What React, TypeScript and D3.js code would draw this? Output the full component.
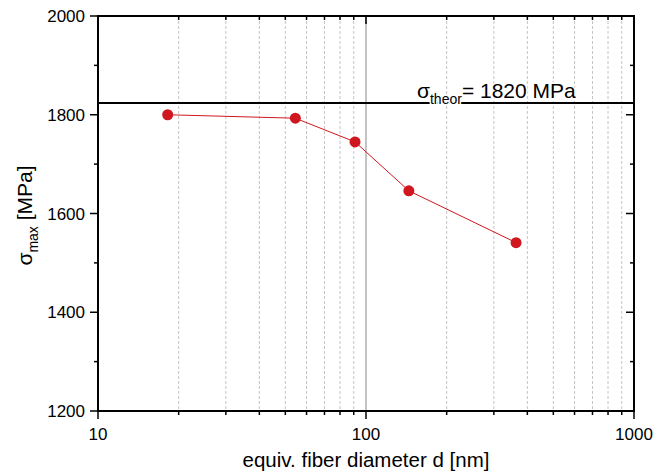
import React from 'react';
import * as d3 from 'd3';

const diameters = [18.2, 54.5, 91, 144.5, 363];
const sigmaMax = [1800, 1793, 1745, 1646, 1541];
const sigmaTheor = 1824;
const yTicks = [1200, 1400, 1600, 1800, 2000];
const yMinorTicks = [1300, 1500, 1700, 1900];
const xTicks = [10, 100, 1000];
const xMinorTicks = [20, 30, 40, 50, 60, 70, 80, 90, 200, 300, 400, 500, 600, 700, 800, 900];

const W = 670;
const H = 476;
const margin = { top: 16, right: 36, bottom: 65, left: 98 };
const font = 'Liberation Sans, Arial, sans-serif';
const red = '#d0171f';

export default function App() {
  const x = d3.scaleLog().domain([10, 1000]).range([margin.left, W - margin.right]);
  const y = d3.scaleLinear().domain([1200, 2000]).range([H - margin.bottom, margin.top]);
  const [x0, x1] = x.range();
  const [y0, y1] = y.range();

  const pts = diameters.map((d, i) => [x(d), y(sigmaMax[i])] as [number, number]);
  const line = d3.line()(pts) || '';

  return (
    <svg width={W} height={H} style={{ position: 'absolute', left: 0, top: 0, background: '#fff' }}>
      {/* vertical grid */}
      {xMinorTicks.map(t => (
        <line key={'g' + t} x1={x(t)} x2={x(t)} y1={y1} y2={y0} stroke="#c4c4c4" strokeWidth={1} strokeDasharray="3,2" />
      ))}
      <line x1={x(100)} x2={x(100)} y1={y1} y2={y0} stroke="#888" strokeWidth={1} />

      {/* theoretical strength */}
      <line x1={x0} x2={x1} y1={y(sigmaTheor)} y2={y(sigmaTheor)} stroke="#000" strokeWidth={2} />

      {/* data */}
      <path d={line} fill="none" stroke={red} strokeWidth={1} />
      {pts.map((p, i) => (
        <circle key={i} cx={p[0]} cy={p[1]} r={5.5} fill={red} />
      ))}

      {/* frame */}
      <rect x={x0} y={y1} width={x1 - x0} height={y0 - y1} fill="none" stroke="#000" strokeWidth={2} />

      {/* y ticks */}
      {yTicks.map(t => (
        <g key={'yl' + t}>
          <line x1={x0 - 8} x2={x0} y1={y(t)} y2={y(t)} stroke="#000" strokeWidth={1.5} />
          <line x1={x1} x2={x1 - 8} y1={y(t)} y2={y(t)} stroke="#000" strokeWidth={1.5} />
          <text x={x0 - 13} y={y(t)} dy="0.36em" textAnchor="end" fontFamily={font} fontSize={17}>{t}</text>
        </g>
      ))}
      {yMinorTicks.map(t => (
        <g key={'ym' + t}>
          <line x1={x0 - 4} x2={x0} y1={y(t)} y2={y(t)} stroke="#000" strokeWidth={1.5} />
          <line x1={x1} x2={x1 - 4} y1={y(t)} y2={y(t)} stroke="#000" strokeWidth={1.5} />
        </g>
      ))}

      {/* x ticks */}
      {xTicks.map(t => (
        <g key={'xt' + t}>
          <line x1={x(t)} x2={x(t)} y1={y0} y2={y0 + 8} stroke="#000" strokeWidth={1.5} />
          <line x1={x(t)} x2={x(t)} y1={y1} y2={y1 + 8} stroke="#000" strokeWidth={1.5} />
          <text x={x(t)} y={y0 + 29} textAnchor="middle" fontFamily={font} fontSize={17}>{t}</text>
        </g>
      ))}
      {xMinorTicks.map(t => (
        <g key={'xm' + t}>
          <line x1={x(t)} x2={x(t)} y1={y0} y2={y0 + 4} stroke="#000" strokeWidth={1.5} />
          <line x1={x(t)} x2={x(t)} y1={y1} y2={y1 + 4} stroke="#000" strokeWidth={1.5} />
        </g>
      ))}

      {/* annotation */}
      <text x={417} y={98} fontFamily={font} fontSize={21} stroke="#fff" strokeWidth={3} paintOrder="stroke">
        σ<tspan fontSize={14} dy={6}>theor</tspan><tspan dy={-6}>= 1820 MPa</tspan>
      </text>

      {/* axis titles */}
      <text x={(x0 + x1) / 2} y={467} textAnchor="middle" fontFamily={font} fontSize={20.5}>equiv. fiber diameter d [nm]</text>
      <text transform={`translate(32,${(y0 + y1) / 2 + 2}) rotate(-90)`} textAnchor="middle" fontFamily={font} fontSize={21}>
        σ<tspan fontSize={14} dy={6}>max</tspan><tspan dy={-6}> [MPa]</tspan>
      </text>
    </svg>
  );
}
